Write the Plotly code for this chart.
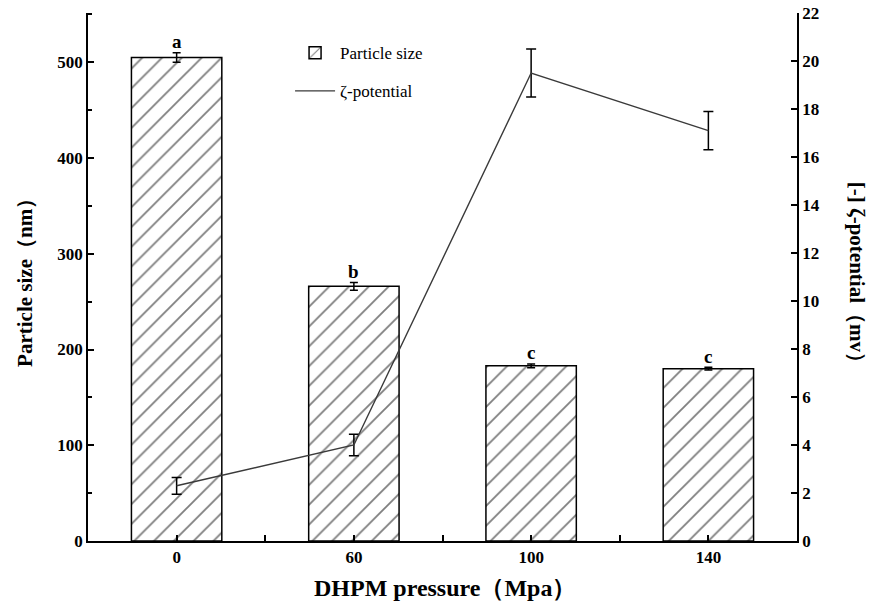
import plotly.graph_objects as go

categories = ["0", "60", "100", "140"]
particle_size = [505, 266, 183, 180]
particle_err = [5, 4, 2, 1.5]
sig_letters = ["a", "b", "c", "c"]
zeta = [2.3, 4.0, 19.5, 17.1]
zeta_err = [0.35, 0.45, 1.0, 0.8]
left_ticks = [0, 100, 200, 300, 400, 500]
right_ticks = [0, 2, 4, 6, 8, 10, 12, 14, 16, 18, 20, 22]

pos = list(range(len(categories)))
serif = "Liberation Serif"

fig = go.Figure()
fig.add_trace(go.Bar(
    x=pos, y=particle_size, width=0.51, name="Particle size",
    legendgroup="g1",
    marker=dict(color="white", line=dict(color="black", width=1.5),
                pattern=dict(shape="/", fgcolor="black", bgcolor="white",
                             size=14, solidity=0.13)),
    error_y=dict(type="data", array=particle_err, color="black",
                 thickness=1.5, width=4),
    yaxis="y",
))
fig.add_trace(go.Scatter(
    x=pos, y=zeta, mode="lines", name="ζ-potential",
    legendgroup="g2",
    line=dict(color="#3a3a3a", width=1.4),
    error_y=dict(type="data", array=zeta_err, color="black",
                 thickness=1.5, width=5),
    yaxis="y2",
))

for p, v, e, t in zip(pos, particle_size, particle_err, sig_letters):
    fig.add_annotation(x=p, y=v + e, text="<b>" + t + "</b>", showarrow=False,
                       yshift=11, font=dict(family=serif, size=19, color="black"))

title_font = dict(family=serif, size=21, color="black")
fig.add_annotation(xref="paper", yref="paper", x=-0.089, y=0.5,
                   xanchor="center", yanchor="middle",
                   text="<b>Particle size（nm）</b>", textangle=-90,
                   showarrow=False, font=title_font)
fig.add_annotation(xref="paper", yref="paper", x=1.085, y=0.5,
                   xanchor="center", yanchor="middle",
                   text="<b>[-] ζ-potential（mv）</b>", textangle=90,
                   showarrow=False, font=title_font)
fig.add_annotation(xref="paper", yref="paper", x=0.503, y=-0.089,
                   xanchor="center", yanchor="middle",
                   text="<b>DHPM pressure（Mpa）</b>",
                   showarrow=False, font=dict(family=serif, size=24, color="black"))

tickfont = dict(family=serif, size=17, color="black", weight="bold")
axis_common = dict(ticks="inside", ticklen=6, tickwidth=1.5, tickcolor="black",
                   showline=True, linecolor="black", linewidth=1.8,
                   showgrid=False, zeroline=False, automargin=False,
                   ticklabeloverflow="allow", tickfont=tickfont)

fig.update_layout(
    width=882, height=610,
    margin=dict(l=88, r=85, t=13, b=69, autoexpand=False),
    paper_bgcolor="white", plot_bgcolor="white",
    font=dict(family=serif, color="black"),
    showlegend=True,
    legend=dict(x=0.285, y=0.958, xanchor="left", yanchor="top",
                bgcolor="rgba(0,0,0,0)",
                font=dict(family=serif, size=17, color="black"),
                itemwidth=40, tracegroupgap=13),
    xaxis=dict(
        range=[-0.5, 3.5], tickvals=pos, ticktext=categories,
        minor=dict(tickvals=[0.5, 1.5, 2.5], ticks="inside", ticklen=6,
                   tickwidth=1.5, tickcolor="black"),
        **axis_common,
    ),
    yaxis=dict(
        range=[0, 551.5], tickvals=left_ticks,
        minor=dict(tick0=50, dtick=100, ticks="inside", ticklen=4,
                   tickwidth=1.5, tickcolor="black"),
        **axis_common,
    ),
    yaxis2=dict(
        overlaying="y", side="right", range=[0, 22], tickvals=right_ticks,
        **axis_common,
    ),
)

fig.write_html("out.html", config={"displayModeBar": False},
               post_script="document.body.style.margin='0px';")
